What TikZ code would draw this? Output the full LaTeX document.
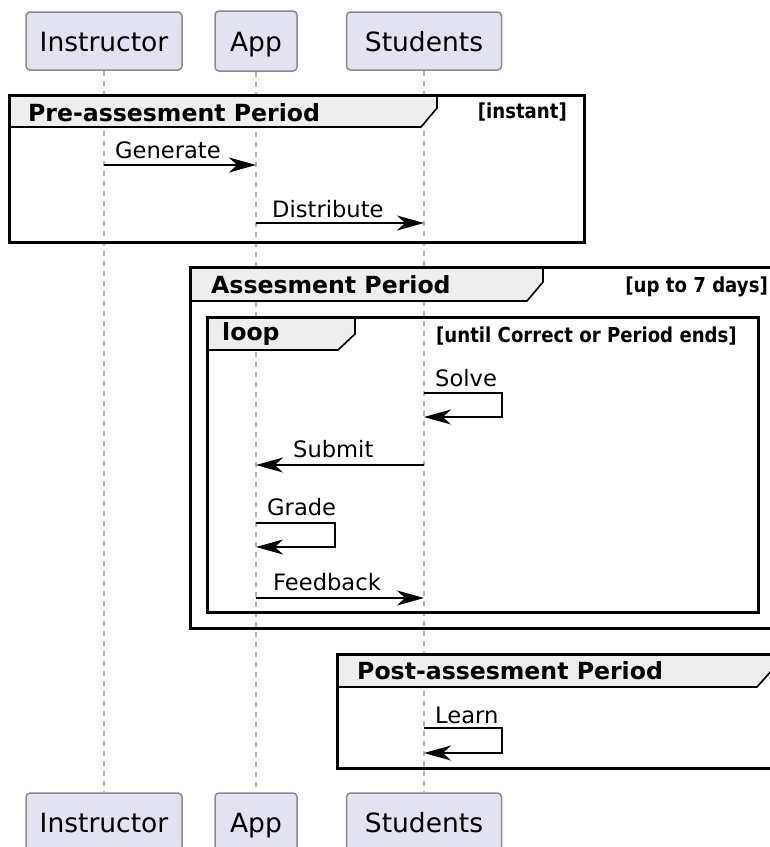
\documentclass[tikz,border=0pt]{standalone}
\usepackage{fontspec}
\setmainfont{DejaVu Sans}
\usetikzlibrary{arrows.meta}
\definecolor{partfill}{HTML}{E2E2F0}
\definecolor{partborder}{HTML}{8A8A8A}
\definecolor{lifecol}{HTML}{B0B0B0}
\definecolor{tabfill}{HTML}{EEEEEE}
\newcommand{\grdtext}[1]{\scalebox{0.88}[1]{#1}}
\begin{document}
\begin{tikzpicture}[x=1pt,y=-1pt,
  part/.style={draw=partborder, fill=partfill, line width=1.5pt, rounded corners=4pt,
    inner sep=0pt, font=\fontsize{26.5}{30}\selectfont, text height=20pt, text depth=0pt},
  life/.style={draw=lifecol, line width=1.3pt, dash pattern=on 5pt off 5pt},
  frm/.style={draw=black, line width=3pt},
  tabshape/.style={draw=black, fill=tabfill, line width=1.6pt},
  ttl/.style={inner sep=0pt, anchor=base west, font=\bfseries\fontsize{23.6}{28}\selectfont},
  grd/.style={inner sep=0pt, font=\bfseries\fontsize{20.6}{24}\selectfont},
  lbl/.style={inner sep=0pt, anchor=base west, font=\fontsize{22.6}{27}\selectfont},
  msg/.style={draw=black, line width=1.9pt, -{Stealth[length=27pt,width=15pt,inset=8pt]}},
  selfmsg/.style={draw=black, line width=1.9pt, -{Stealth[length=27pt,width=15pt,inset=8pt]}},
]
\useasboundingbox (0,0) rectangle (770,847);
\clip (0,0) rectangle (770,847);
\fill[white] (0,0) rectangle (770,847);

% participants
\node[part, minimum width=156pt, minimum height=58pt] (instT) at (104,41) {Instructor};
\node[part, minimum width=82pt, minimum height=60pt] (appT) at (256,41) {App};
\node[part, minimum width=155pt, minimum height=58pt] (stuT) at (424,41) {Students};
\node[part, minimum width=156pt, minimum height=58pt] (instB) at (104,822) {Instructor};
\node[part, minimum width=82pt, minimum height=58pt] (appB) at (256,822) {App};
\node[part, minimum width=155pt, minimum height=58pt] (stuB) at (424,822) {Students};

% lifelines
\draw[life] (instT.south) -- (instB.north);
\draw[life] (appT.south) -- (appB.north);
\draw[life] (stuT.south) -- (stuB.north);

% Pre-assessment frame
\draw[tabshape] (9,95) -- (437,95) -- (437,108) -- (421,127) -- (9,127) -- cycle;
\draw[frm] (9,95) rectangle (584,242);
\node[ttl] (tPre) at (28,121) {Pre-assesment Period};
\node[grd, anchor=base east] (gPre) at (567,118) {\grdtext{[instant]}};

% Assessment frame
\draw[tabshape] (190,267) -- (543,267) -- (543,282) -- (527,301) -- (190,301) -- cycle;
\draw[frm] (190,267) rectangle (790,628);
\node[ttl] (tAss) at (211,293) {Assesment Period};
\node[grd, anchor=base east] (gAss) at (768,292) {\grdtext{[up to 7 days]}};

% Loop frame
\draw[tabshape] (207,317) -- (355,317) -- (355,334) -- (338,350) -- (207,350) -- cycle;
\draw[frm] (207,317) rectangle (758,612);
\node[ttl] (tLoop) at (222,340) {loop};
\node[grd, anchor=base west] (gLoop) at (436,342) {\grdtext{[until Correct or Period ends]}};

% Post-assessment frame
\draw[tabshape] (337,654) -- (773,654) -- (773,669) -- (757,687) -- (337,687) -- cycle;
\draw[frm] (337,654) rectangle (790,768);
\node[ttl] (tPost) at (357,679) {Post-assesment Period};

% messages
\node[lbl] (lGen) at (115,158) {Generate};
\draw[msg] (instT.south |- 0,165) -- (appT.south |- 0,165);

\node[lbl] (lDist) at (272,217) {Distribute};
\draw[msg] (appT.south |- 0,223) -- (stuT.south |- 0,223);

\node[lbl] (lSolve) at (435,386) {Solve};
\draw[selfmsg] (stuT.south |- 0,393) -- (502,393) -- (502,417) -- (stuT.south |- 0,417);

\node[lbl] (lSub) at (293,457) {Submit};
\draw[msg] (stuT.south |- 0,465) -- (appT.south |- 0,465);

\node[lbl] (lGrade) at (267,515) {Grade};
\draw[selfmsg] (appT.south |- 0,523) -- (335,523) -- (335,547) -- (appT.south |- 0,547);

\node[lbl] (lFeed) at (273,590) {Feedback};
\draw[msg] (appT.south |- 0,598) -- (stuT.south |- 0,598);

\node[lbl] (lLearn) at (435,723) {Learn};
\draw[selfmsg] (stuT.south |- 0,728) -- (502,728) -- (502,753) -- (stuT.south |- 0,753);
\end{tikzpicture}
\end{document}
